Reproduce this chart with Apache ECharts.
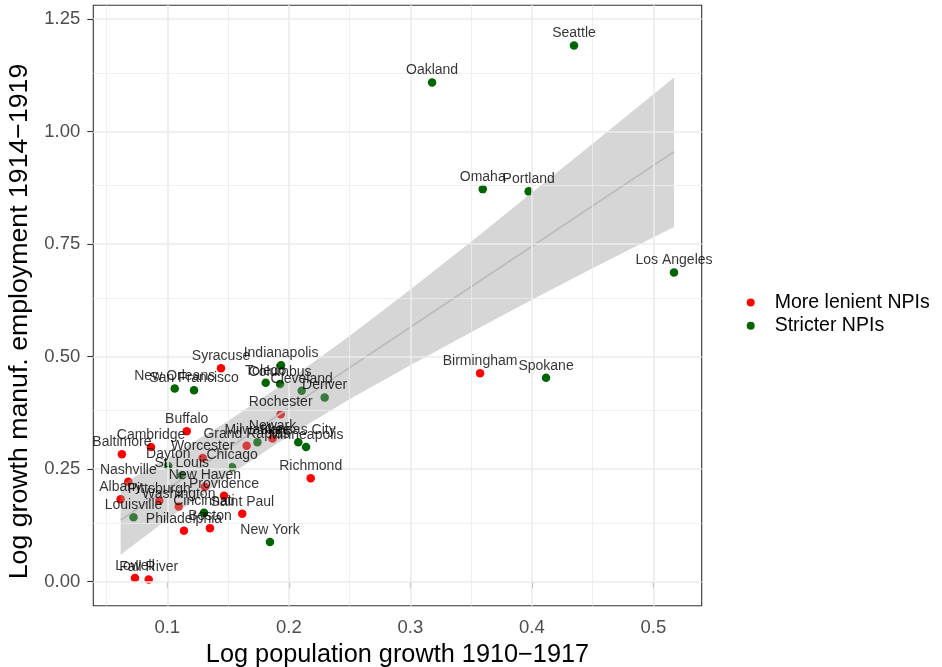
<!DOCTYPE html>
<html>
<head>
<meta charset="utf-8">
<script src="https://cdn.jsdelivr.net/npm/echarts@6/dist/echarts.min.js"></script>
<style>
html,body{margin:0;padding:0;background:#fff;}
#chart{width:942px;height:667px;}
</style>
</head>
<body>
<div id="chart"></div>
<script>
// ---- data ----
const lenientNames = ['Syracuse','Rochester','Buffalo','Cambridge','Baltimore','Grand Rapids','Newark','Worcester','New Haven','Providence','Albany','Nashville','Pittsburgh','Washington','Saint Paul','Boston','Philadelphia','Richmond','Birmingham','Lowell','Fall River'];
const lenientX = [0.1442,0.1933,0.1160,0.0866,0.0626,0.1653,0.1866,0.1291,0.1310,0.1467,0.0616,0.0679,0.0934,0.1094,0.1617,0.1351,0.1137,0.2180,0.3574,0.0734,0.0847];
const lenientY = [0.474,0.372,0.334,0.299,0.283,0.302,0.318,0.275,0.211,0.191,0.183,0.222,0.180,0.167,0.151,0.119,0.113,0.230,0.463,0.008,0.005];

const strictNames = ['Seattle','Oakland','Omaha','Portland','Los Angeles','Spokane','Indianapolis','Toledo','Columbus','New Orleans','San Francisco','Cleveland','Denver','Milwaukee','Kansas City','Minneapolis','Chicago','Dayton','St. Louis','Cincinnati','Louisville','New York'];
const strictX = [0.4347,0.3179,0.3596,0.3974,0.5170,0.4117,0.1936,0.1810,0.1928,0.1061,0.1220,0.2106,0.2295,0.1742,0.2078,0.2142,0.1533,0.1008,0.1119,0.1302,0.0722,0.1845];
const strictY = [1.191,1.109,0.872,0.867,0.687,0.453,0.481,0.442,0.439,0.429,0.425,0.424,0.409,0.310,0.310,0.299,0.254,0.257,0.236,0.153,0.143,0.088];

// smoother (linear fit) and its confidence band
const bandX  = [0.0616,0.10,0.15,0.20,0.25,0.30,0.35,0.40,0.45,0.517];
const bandLo = [0.060,0.138,0.235,0.324,0.405,0.481,0.554,0.626,0.696,0.788];
const bandHi = [0.215,0.275,0.357,0.448,0.546,0.649,0.755,0.864,0.973,1.120];
const fitX = [0.0616,0.517];
const fitY = [0.137,0.955];

// axes
const xTicks = [0.1,0.2,0.3,0.4,0.5];
const xMinor = [0.05,0.15,0.25,0.35,0.45];
const yTicks = [0,0.25,0.5,0.75,1.0,1.25];
const yMinor = [0.125,0.375,0.625,0.875,1.125];
const xRange = [0.0391,0.5398];
const yRange = [-0.0533,1.2803];

const xTitle = 'Log population growth 1910\u22121917';
const yTitle = 'Log growth manuf. employment 1914\u22121919';
const groupNames = ['More lenient NPIs','Stricter NPIs'];
const groupColors = ['#ff0000','#006400'];

// ---- build ----
const FONT = '"Liberation Sans", Arial, Helvetica, sans-serif';
const lenientData = lenientX.map((x,i)=>[x, lenientY[i], lenientNames[i]]);
const strictData = strictX.map((x,i)=>[x, strictY[i], strictNames[i]]);

const gridLines = [];
xMinor.forEach(v=>gridLines.push({xAxis:v, lineStyle:{width:0.8}}));
yMinor.forEach(v=>gridLines.push({yAxis:v, lineStyle:{width:0.8}}));
xTicks.forEach(v=>gridLines.push({xAxis:v, lineStyle:{width:1.6}}));
yTicks.forEach(v=>gridLines.push({yAxis:v, lineStyle:{width:1.6}}));

const chart = echarts.init(document.getElementById('chart'), null, {renderer:'canvas'});

const labelSeries = (data) => ({
  type:'scatter', data, symbolSize:1, z:6, silent:true,
  itemStyle:{color:'rgba(0,0,0,0)'},
  label:{show:true, position:'top', distance:4.5, formatter:p=>p.data[2],
    fontFamily:FONT, fontSize:14, color:'#000'},
  labelLayout:{hideOverlap:false},
  emphasis:{disabled:true}
});

chart.setOption({
  animation:false,
  backgroundColor:'#ffffff',
  textStyle:{fontFamily:FONT},
  grid:{left:93.3, right:240.3, top:5.3, bottom:61.3, show:true, borderColor:'#333333', borderWidth:1.1, backgroundColor:'#ffffff', containLabel:false, outerBoundsMode:'none'},
  xAxis:{
    type:'value', min:xRange[0], max:xRange[1],
    name:xTitle, nameLocation:'middle', nameGap:31,
    nameTextStyle:{fontFamily:FONT, fontSize:25.3, color:'#000'},
    axisLine:{show:false},
    axisTick:{show:true, length:6, customValues:xTicks, lineStyle:{color:'#333333', width:1.1}},
    axisLabel:{show:true, customValues:xTicks, margin:13, fontFamily:FONT, fontSize:18.5, color:'#4d4d4d', formatter:v=>v.toFixed(1)},
    splitLine:{show:false}
  },
  yAxis:{
    type:'value', min:yRange[0], max:yRange[1],
    name:yTitle, nameLocation:'middle', nameGap:52,
    nameTextStyle:{fontFamily:FONT, fontSize:26.7, color:'#000', padding:[0,32,0,0]},
    axisLine:{show:false},
    axisTick:{show:true, length:6, customValues:yTicks, lineStyle:{color:'#333333', width:1.1}},
    axisLabel:{show:true, customValues:yTicks, margin:13, fontFamily:FONT, fontSize:18.5, color:'#4d4d4d', padding:[5,0,0,0], formatter:v=>v.toFixed(2)},
    splitLine:{show:false}
  },
  legend:{
    data:groupNames, orient:'vertical', left:746.7, top:292.5, padding:0,
    itemWidth:38, itemHeight:8, itemGap:3.3, icon:'circle',
    textStyle:{fontFamily:FONT, fontSize:19.5, color:'#000', lineHeight:19}
  },
  series:[
    {type:'line', name:'grid', data:[], z:0, silent:true,
      markLine:{silent:true, symbol:['none','none'], label:{show:false}, animation:false,
        lineStyle:{color:'#ebebeb', type:'solid'}, emphasis:{disabled:true}, data:gridLines}},
    {type:'scatter', name:groupNames[0], data:lenientData, symbolSize:8.5, z:2, silent:true,
      itemStyle:{color:groupColors[0], opacity:1}},
    {type:'scatter', name:groupNames[1], data:strictData, symbolSize:8.5, z:2, silent:true,
      itemStyle:{color:groupColors[1], opacity:1}},
    {type:'custom', name:'band', z:3, silent:true, data:[[bandX[0], bandLo[0]]],
      renderItem:(params, api)=>{
        const pts = [];
        for (let i=0;i<bandX.length;i++) pts.push(api.coord([bandX[i], bandLo[i]]));
        for (let i=bandX.length-1;i>=0;i--) pts.push(api.coord([bandX[i], bandHi[i]]));
        return {type:'polygon', shape:{points:pts}, style:{fill:'rgba(153,153,153,0.4)'}};
      }},
    {type:'line', name:'fit', z:4, silent:true, data:fitX.map((x,i)=>[x,fitY[i]]), symbol:'none',
      lineStyle:{color:'#bcbcbc', width:1.6}},
    labelSeries(lenientData),
    labelSeries(strictData)
  ]
});
</script>
</body>
</html>
